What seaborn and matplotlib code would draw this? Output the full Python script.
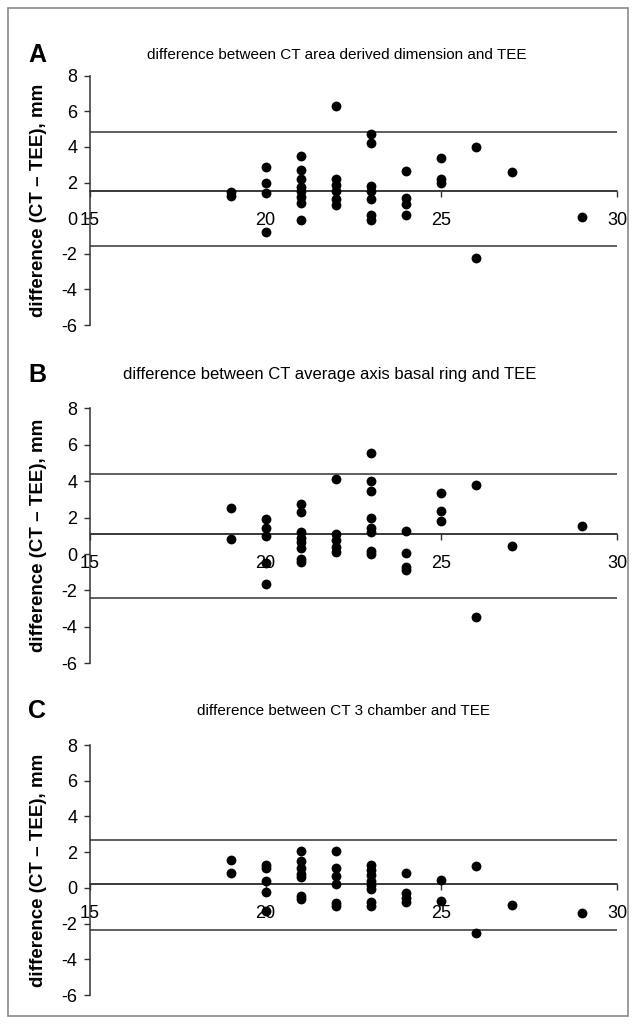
import matplotlib
matplotlib.use("Agg")
import matplotlib.pyplot as plt
import seaborn as sns
from matplotlib.patches import Rectangle

# Bland-Altman style data: x = size (mm), y = CT - TEE difference (mm)
a_size = [19, 19, 20, 20, 20, 20, 21, 21, 21, 21, 21, 21, 21, 21,
          22, 22, 22, 22, 22, 22, 23, 23, 23, 23, 23, 23, 23,
          24, 24, 24, 24, 25, 25, 25, 26, 26, 27, 29]
a_diff = [1.25, 1.45, 2.9, 2.0, 1.4, -0.75, 3.5, 2.7, 2.2, 1.75, 1.5, 1.2, 0.85, -0.1,
          6.3, 2.2, 1.85, 1.5, 1.1, 0.75, 4.7, 4.2, 1.8, 1.5, 1.1, 0.2, -0.1,
          2.65, 1.15, 0.8, 0.15, 3.4, 2.2, 1.95, 4.0, -2.25, 2.6, 0.05]
a_lines = [4.85, 1.5, -1.55]

b_size = [19, 19, 20, 20, 20, 20, 20, 21, 21, 21, 21, 21, 21, 21, 21,
          22, 22, 22, 22, 22, 23, 23, 23, 23, 23, 23, 23, 23,
          24, 24, 24, 24, 25, 25, 25, 26, 26, 27, 29]
b_diff = [2.55, 0.85, 1.9, 1.45, 1.0, -0.5, -1.65, 2.75, 2.3, 1.2, 0.9, 0.65, 0.35, -0.3, -0.45,
          4.1, 1.1, 0.75, 0.4, 0.1, 5.55, 4.0, 3.45, 2.0, 1.45, 1.2, 0.15, 0.0,
          1.25, 0.05, -0.7, -0.9, 3.35, 2.35, 1.8, 3.8, -3.45, 0.45, 1.55]
b_lines = [4.4, 1.08, -2.4]

c_size = [19, 19, 20, 20, 20, 20, 20, 21, 21, 21, 21, 21, 21, 21,
          22, 22, 22, 22, 22, 22, 23, 23, 23, 23, 23, 23, 23, 23,
          24, 24, 24, 24, 25, 25, 26, 26, 27, 29]
c_diff = [1.55, 0.85, 1.3, 1.1, 0.4, -0.25, -1.3, 2.05, 1.5, 1.1, 0.75, 0.6, -0.45, -0.6,
          2.05, 1.1, 0.65, 0.2, -0.85, -1.0, 1.3, 1.0, 0.7, 0.4, 0.15, -0.05, -0.8, -1.0,
          0.85, -0.3, -0.55, -0.8, 0.45, -0.75, 1.25, -2.5, -0.95, -1.4]
c_lines = [2.7, 0.2, -2.35]

letters = ["A", "B", "C"]
titles = ["difference between CT area derived dimension and TEE",
          "difference between CT average axis basal ring and TEE",
          "difference between CT 3 chamber and TEE"]
xticks = [15, 20, 25, 30]
yticks = [-6, -4, -2, 0, 2, 4, 6, 8]

sns.set_theme(style="white")
plt.rcParams["font.family"] = ["Liberation Sans", "DejaVu Sans"]
plt.rcParams["text.color"] = "black"
plt.rcParams["xtick.color"] = "black"
plt.rcParams["ytick.color"] = "black"

W, H = 636, 1024
fig = plt.figure(figsize=(W / 100, H / 100), dpi=100)

# axes boxes in pixels: left(x=15), top(y=8), right(x=30), bottom(y=-6)
boxes = [(90, 75.7, 617, 325), (90, 408.3, 617, 663.3), (90, 745, 617, 995)]
title_y = [55, 375, 711]
title_x = [337, 330, 343]
title_fs = [11, 12, 11]
data = [(a_size, a_diff, a_lines), (b_size, b_diff, b_lines), (c_size, c_diff, c_lines)]

for i in range(3):
    l, t, r, b = boxes[i]
    ax = fig.add_axes([l / W, 1 - b / H, (r - l) / W, (b - t) / H])
    size, diff, lines = data[i]
    for v in lines:
        ax.axhline(v, color="#333333", lw=1.1, zorder=2)
    sns.scatterplot(x=size, y=diff, ax=ax, color="black", s=50,
                    linewidth=0, zorder=3)
    ax.set_xlim(15, 30)
    ax.set_ylim(-6, 8)
    ax.set_xticks(xticks)
    ax.set_yticks(yticks)
    ax.set_xticklabels([str(v) for v in xticks])
    ax.set_yticklabels([str(v) for v in yticks])
    for s in ["top", "right"]:
        ax.spines[s].set_visible(False)
    ax.spines["left"].set_color("#333333")
    ax.spines["left"].set_linewidth(1.1)
    ax.spines["bottom"].set_color("#333333")
    ax.spines["bottom"].set_linewidth(1.1)
    ax.spines["bottom"].set_position(("data", lines[1]))
    ax.tick_params(axis="y", direction="out", length=4, width=1, color="#333333",
                   labelsize=13, pad=5, left=True)
    ax.tick_params(axis="x", direction="out", length=4, width=1, color="#333333",
                   labelsize=13, pad=11, bottom=True)
    ax.set_xlabel("")
    ax.set_ylabel("")
    ax.patch.set_alpha(0)

    fig.text(39 / W, 1 - ((t + b) / 2) / H, "difference (CT \u2013 TEE), mm",
             rotation=90, ha="center", va="center", fontsize=13.5, fontweight="bold")
    fig.text(28 / W, 1 - title_y[i] / H, letters[i], ha="left", va="center",
             fontsize=18, fontweight="bold")
    fig.text(title_x[i] / W, 1 - title_y[i] / H, titles[i], ha="center", va="center",
             fontsize=title_fs[i])

fig.patches.append(Rectangle((8 / W, 8 / H), 620 / W, 1008 / H, transform=fig.transFigure,
                             fill=False, edgecolor="#8a8a8a", lw=1.2))

fig.savefig("out.png", dpi=100)
